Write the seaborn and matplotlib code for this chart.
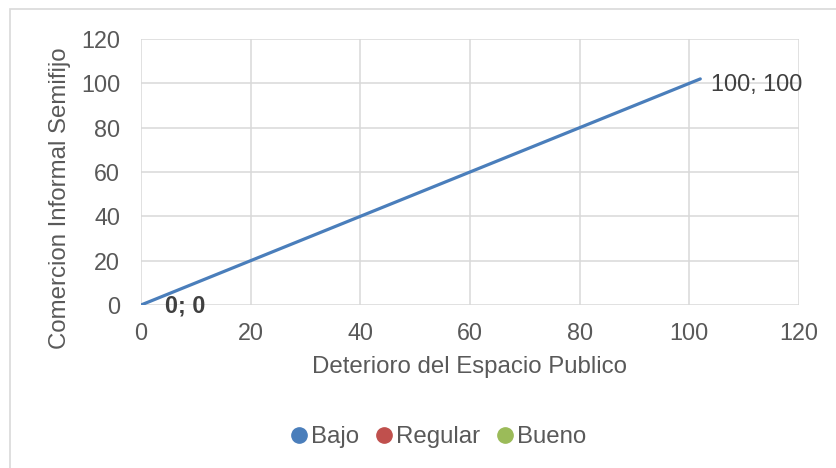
import pandas as pd
import matplotlib
matplotlib.use("Agg")
import matplotlib.pyplot as plt
import seaborn as sns
from matplotlib.lines import Line2D
from matplotlib.patches import Rectangle

# ── Datos ────────────────────────────────────────────────────────────────────
deterioro  = [0, 102]          # Deterioro del Espacio Publico
comercio   = [0, 102]          # Comercion Informal Semifijo
etiquetas  = ["0; 0", "100; 100"]
series     = ["Bajo", "Regular", "Bueno"]
colores    = ["#4A7EBB", "#C0504D", "#9BBB59"]
ticks      = [0, 20, 40, 60, 80, 100, 120]

GRIS_TXT  = "#595959"
GRIS_GRID = "#D9D9D9"
FS = 16.8

sns.set_theme(style="white")
plt.rcParams["font.family"] = ["Liberation Sans", "DejaVu Sans"]

df = pd.DataFrame({"x": deterioro, "y": comercio, "serie": "Bajo"})

fig = plt.figure(figsize=(8.37, 4.68), dpi=100)
ax = fig.add_axes([141/837, 1-305/468, (799-141)/837, (305-39)/468])

sns.lineplot(data=df, x="x", y="y", color=colores[0], linewidth=2.3,
             legend=False, ax=ax)

ax.set_xlim(0, 120)
ax.set_ylim(0, 120)
ax.set_xticks(ticks)
ax.set_yticks(ticks)
ax.grid(True, color=GRIS_GRID, linewidth=1.1)
ax.set_axisbelow(True)
for s in ax.spines.values():
    s.set_visible(False)
ax.tick_params(length=0, labelsize=FS, colors=GRIS_TXT)
ax.tick_params(axis="y", pad=15)
ax.tick_params(axis="x", pad=12)
ax.set_xlabel("Deterioro del Espacio Publico", fontsize=FS + 0.5, color=GRIS_TXT, labelpad=8)
ax.set_ylabel("Comercion Informal Semifijo", fontsize=FS + 0.5, color=GRIS_TXT)
ax.yaxis.set_label_coords(-0.106, 0.40)

# etiquetas de datos
ax.annotate(etiquetas[0], (deterioro[0], comercio[0]), xytext=(17, -1),
            textcoords="offset points", ha="left", va="center",
            fontsize=FS, color="#404040", fontweight="bold", annotation_clip=False)
ax.annotate(etiquetas[1], (deterioro[1], comercio[1]), xytext=(8, -4),
            textcoords="offset points", ha="left", va="center",
            fontsize=FS, color="#404040", annotation_clip=False)

# leyenda
handles = [Line2D([], [], marker="o", linestyle="", markersize=11,
                  markerfacecolor=c, markeredgecolor=c) for c in colores]
fig.legend(handles, series, loc="center", bbox_to_anchor=(433/837, 1-437/468),
           ncol=3, frameon=False, fontsize=FS + 0.5, handletextpad=-0.3,
           columnspacing=0.25, handlelength=1.6, labelcolor=GRIS_TXT)

# marco exterior
fig.patches.append(Rectangle((10/837, -0.05), 1.0, 1-9/468+0.05,
                             transform=fig.transFigure, fill=False,
                             edgecolor=GRIS_GRID, linewidth=1.2))

fig.savefig("out.png", dpi=100)
